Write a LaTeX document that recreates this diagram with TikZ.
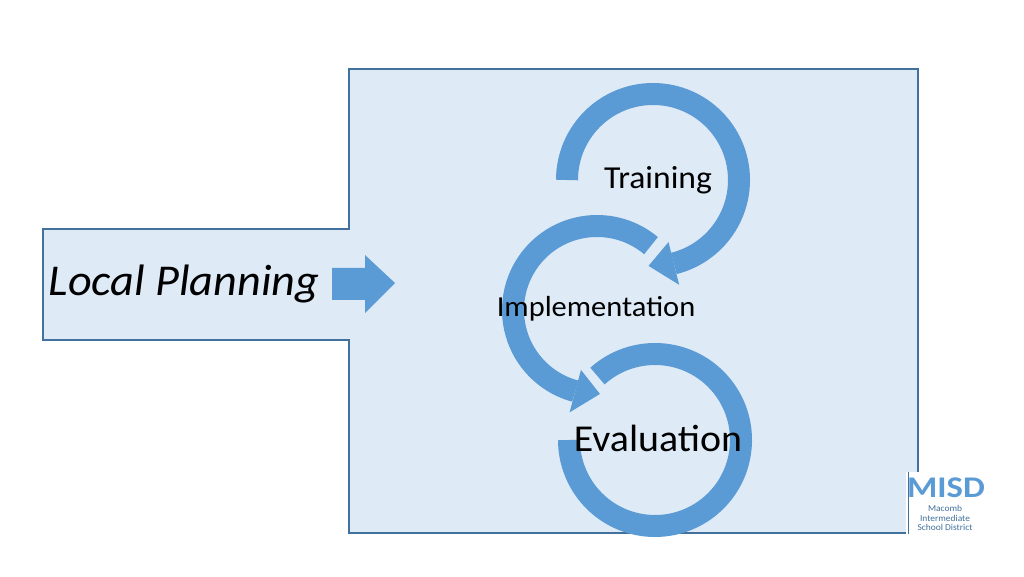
\documentclass[tikz,border=0pt]{standalone}
\usepackage{fontspec}
\setmainfont{Carlito}
\begin{document}
\begin{tikzpicture}[x=1pt,y=1pt,
  panel/.style={fill=panelfill,draw=paneldraw,line width=1.3pt},
  ring/.style={draw=ringblue,line width=22pt},
  lbl/.style={inner sep=0pt,text=black,xscale=1.05}]
\definecolor{panelfill}{HTML}{DEEBF7}
\definecolor{paneldraw}{HTML}{41719C}
\definecolor{ringblue}{HTML}{5B9BD5}
\useasboundingbox (0,0) rectangle (1024,576);
\fill[white] (0,0) rectangle (1024,576);
% panels
\draw[panel] (43,236) rectangle (349,347);
\draw[panel] (349,43) rectangle (918,507);
\fill[panelfill] (347,237) rectangle (351,346);
% block arrow
\fill[ringblue] (332,276) -- (365,276) -- (365,263) -- (395,293) -- (365,321) -- (365,308) -- (332,308) -- cycle;
\node[lbl,font=\itshape\fontsize{44}{48}\selectfont] (lp) at (184,292) {Local Planning};
% Training ring
\coordinate (ct) at (653,396);
\draw[ring] ([shift={(ct)}]180:86) arc[start angle=180,end angle=-76,radius=86];
\fill[ringblue] ([shift={(ct)}]-76:108) -- ([shift={(ct)}]-76:64) -- ([shift={(ct)}]-93:86) -- cycle;
% Implementation ring
\coordinate (ci) at (597,266);
\draw[ring] ([shift={(ci)}]50:84) arc[start angle=50,end angle=255,radius=84];
\fill[ringblue] ([shift={(ci)}]255:106) -- ([shift={(ci)}]255:62) -- ([shift={(ci)}]272:84) -- cycle;
% Evaluation ring
\coordinate (ce) at (655,136);
\draw[ring] ([shift={(ce)}]132:86) arc[start angle=132,end angle=-180,radius=86];
\node[lbl,font=\fontsize{32}{36}\selectfont] (tr) at (658,396) {Training};
\node[lbl,font=\fontsize{29}{32}\selectfont] (im) at (596,267) {Implementation};
\node[lbl,font=\fontsize{38}{42}\selectfont] (ev) at (658,138) {Evaluation};
% logo
\fill[white] (906,40) rectangle (984,104);
\draw[paneldraw,line width=1pt] (908,42) -- (908,104);
\node[lbl,text=ringblue,font=\bfseries\fontsize{30}{30}\selectfont,xscale=1.1] (ms) at (946,88) {MISD};
\node[lbl,text=paneldraw,font=\fontsize{9}{9.5}\selectfont,align=center] (md) at (945,58) {Macomb\\Intermediate\\School District};
\end{tikzpicture}
\end{document}
